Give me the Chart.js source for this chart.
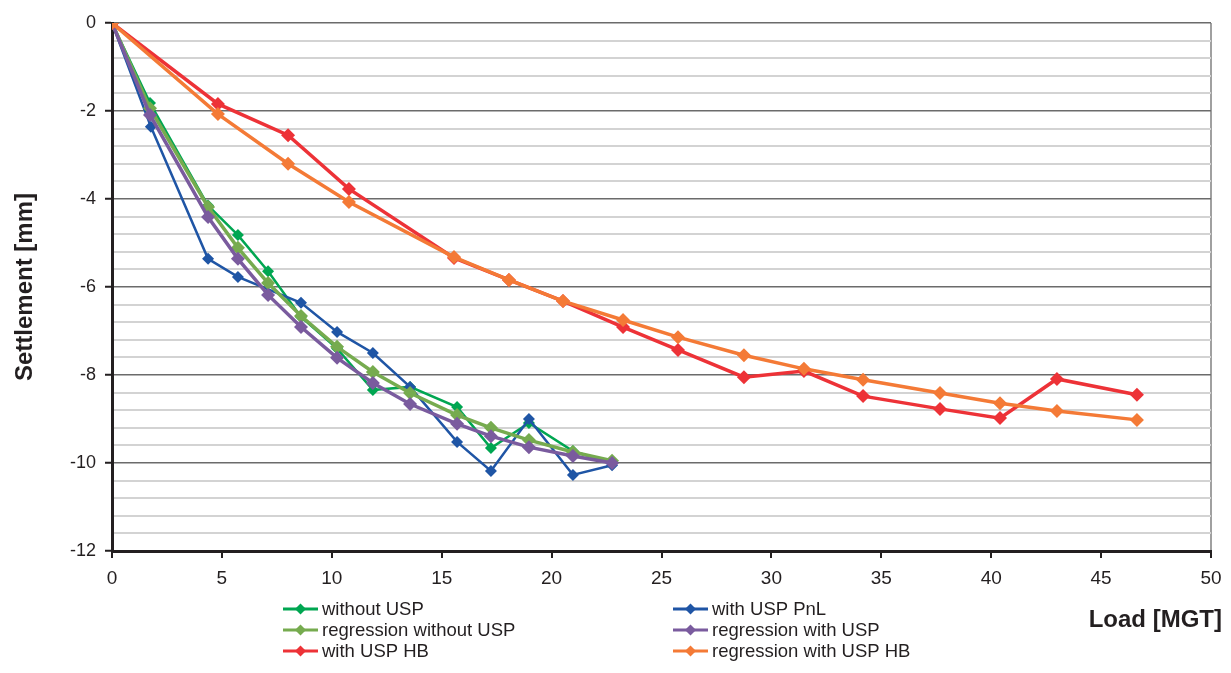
<!doctype html>
<html>
  <head>
    <script src="https://cdn.jsdelivr.net/npm/chart.js@4"></script>
    <style>
      body { margin: 0; background: #fff; }
      #wrap { width: 1231px; height: 673px; position: relative; }
    </style>
  </head>

  <body>
    <div id="wrap">
      <canvas id="canvas"></canvas>
    </div>
    <script>
      // load [MGT] for each group of measurements
      const loadPnL = [0, 1.73, 4.37, 5.73, 7.10, 8.60, 10.24, 11.87, 13.56, 15.70, 17.24, 18.97, 20.97, 22.75];
      const loadBlue = [0, 1.77, 4.37, 5.73, 8.60, 10.24, 11.87, 13.56, 15.70, 17.24, 18.97, 20.97, 22.75];
      const loadHB = [0, 4.82, 8.01, 10.78, 15.56, 18.06, 20.52, 23.25, 25.75, 28.75, 31.48, 34.17, 37.67, 40.40, 42.99, 46.63];

      // settlement [mm]
      const withoutUSP = [0, -1.82, -4.15, -4.82, -5.64, -6.68, -7.40, -8.34, -8.27, -8.73, -9.66, -9.09, -9.73, -10.0];
      const withUSPPnL = [0, -2.36, -5.36, -5.77, -6.36, -7.02, -7.50, -8.27, -9.52, -10.18, -9.00, -10.27, -10.05];
      const regWithoutUSP = [0, -1.94, -4.18, -5.11, -5.91, -6.66, -7.36, -7.93, -8.41, -8.91, -9.20, -9.48, -9.75, -9.95];
      const regWithUSP = [0, -2.09, -4.41, -5.36, -6.18, -6.91, -7.61, -8.18, -8.66, -9.11, -9.39, -9.64, -9.84, -10.0];
      const withUSPHB = [0, -1.84, -2.55, -3.77, -5.34, -5.84, -6.32, -6.91, -7.43, -8.05, -7.91, -8.48, -8.77, -8.98, -8.09, -8.45];
      const regWithUSPHB = [0, -2.07, -3.20, -4.07, -5.32, -5.84, -6.32, -6.75, -7.14, -7.55, -7.86, -8.11, -8.41, -8.64, -8.82, -9.02];

      const xTicks = [0, 5, 10, 15, 20, 25, 30, 35, 40, 45, 50];
      const yTicks = [0, -2, -4, -6, -8, -10, -12];

      const pts = (xs, ys) => ys.map((y, i) => ({ x: xs[i], y: y }));

      const series = [
        { label: 'without USP', xs: loadPnL, ys: withoutUSP, color: '#00a651', w: 2.5, r: 6 },
        { label: 'with USP PnL', xs: loadBlue, ys: withUSPPnL, color: '#1f55a5', w: 2.5, r: 6 },
        { label: 'regression without USP', xs: loadPnL, ys: regWithoutUSP, color: '#76ab4f', w: 3.5, r: 7 },
        { label: 'regression with USP', xs: loadPnL, ys: regWithUSP, color: '#7a5b9e', w: 3.5, r: 7 },
        { label: 'with USP HB', xs: loadHB, ys: withUSPHB, color: '#ed3237', w: 3.5, r: 7 },
        { label: 'regression with USP HB', xs: loadHB, ys: regWithUSPHB, color: '#f47a36', w: 3.5, r: 7 },
      ];

      const isMajor = (v) => Math.abs(Math.round(v / 2) * 2 - v) < 1e-6;

      // legend in two columns plus the x axis title, under the plot
      const bottomText = {
        id: 'bottomText',
        afterDraw(chart) {
          const ctx = chart.ctx;
          ctx.save();
          ctx.font = '18.5px "Liberation Sans", Arial, sans-serif';
          ctx.textBaseline = 'middle';
          chart.data.datasets.forEach((ds, i) => {
            const x = i % 2 === 0 ? 283 : 673;
            const y = 609 + Math.floor(i / 2) * 21;
            ctx.strokeStyle = ds.borderColor;
            ctx.lineWidth = 3;
            ctx.beginPath();
            ctx.moveTo(x, y);
            ctx.lineTo(x + 35, y);
            ctx.stroke();
            ctx.fillStyle = ds.borderColor;
            ctx.beginPath();
            ctx.moveTo(x + 17.5, y - 5.5);
            ctx.lineTo(x + 23, y);
            ctx.lineTo(x + 17.5, y + 5.5);
            ctx.lineTo(x + 12, y);
            ctx.closePath();
            ctx.fill();
            ctx.fillStyle = '#231f20';
            ctx.textAlign = 'left';
            ctx.fillText(ds.label, x + 39, y + 1);
          });
          ctx.font = 'bold 24px "Liberation Sans", Arial, sans-serif';
          ctx.textAlign = 'right';
          ctx.fillText('Load [MGT]', 1222, 620);
          ctx.restore();
        },
      };

      new Chart(document.getElementById('canvas').getContext('2d'), {
        type: 'scatter',
        data: {
          datasets: series.map((s, i) => ({
            label: s.label,
            data: pts(s.xs, s.ys),
            showLine: true,
            borderColor: s.color,
            backgroundColor: s.color,
            borderWidth: s.w,
            pointStyle: 'rectRot',
            pointRadius: s.r,
            pointHoverRadius: s.r,
            pointBorderWidth: 0,
            order: series.length - i,
          })),
        },
        plugins: [bottomText],
        options: {
          responsive: true,
          maintainAspectRatio: false,
          animation: false,
          layout: { padding: { top: 23, right: 20, left: 0, bottom: 0 } },
          plugins: {
            legend: { display: false },
            tooltip: { enabled: false },
          },
          scales: {
            x: {
              type: 'linear',
              min: 0,
              max: 50,
              afterFit: (s) => { s.height = 122; },
              afterBuildTicks: (s) => { s.ticks = xTicks.map((v) => ({ value: v })); },
              ticks: {
                color: '#231f20',
                font: { family: '"Liberation Sans Narrow", "Arial Narrow", "Liberation Sans", sans-serif', size: 19 },
                padding: 9,
                maxRotation: 0,
              },
              grid: {
                color: (c) => (c.tick && c.tick.value === 50 ? '#a0a0a0' : 'rgba(0,0,0,0)'),
                lineWidth: 2,
                tickColor: '#231f20',
                tickLength: 7,
                tickWidth: 2,
              },
              border: { color: '#231f20', width: 3 },
            },
            y: {
              type: 'linear',
              min: -12,
              max: 0,
              afterFit: (s) => { s.width = 112; },
              ticks: {
                stepSize: 0.4,
                autoSkip: false,
                color: '#231f20',
                font: { family: '"Liberation Sans", Arial, sans-serif', size: 18 },
                padding: 9,
                callback: (v) => (isMajor(v) && yTicks.includes(Math.round(v)) ? String(Math.round(v)) : ''),
              },
              grid: {
                color: (c) => (isMajor(c.tick.value) ? '#6b6b6b' : '#d3d3d3'),
                lineWidth: (c) => (isMajor(c.tick.value) ? 1.5 : 2),
                tickColor: (c) => (isMajor(c.tick.value) ? '#231f20' : 'rgba(0,0,0,0)'),
                tickLength: 7,
                tickWidth: 2,
              },
              border: { color: '#231f20', width: 3 },
              title: {
                display: true,
                text: 'Settlement [mm]',
                color: '#231f20',
                font: { family: '"Liberation Sans", Arial, sans-serif', size: 24, weight: 'bold' },
                padding: { top: 11 },
              },
            },
          },
        },
      });
    </script>
  </body>
</html>
